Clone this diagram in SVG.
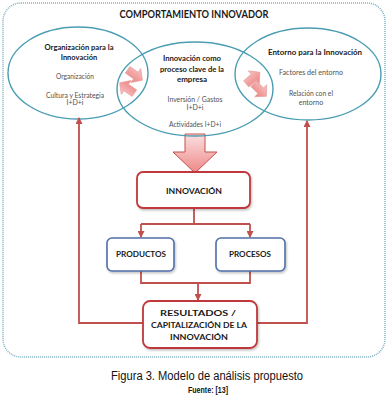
<svg xmlns="http://www.w3.org/2000/svg" width="389" height="400" viewBox="0 0 389 400">
<style>
.ell{fill:none;stroke:#4a9db3;stroke-width:1.4}
.h{font-family:Lato,"Open Sans",sans-serif;font-weight:bold;fill:#1a1a1a;text-anchor:middle}
.b{font-family:Lato,"Open Sans",sans-serif;fill:#505050;text-anchor:middle;font-size:7px}
.rbox{fill:#fff;stroke:#c0393b;stroke-width:1.8}
.bbox{fill:#fff;stroke:#4f6fa8;stroke-width:1.6}
.bt{font-family:Lato,"Open Sans",sans-serif;font-weight:bold;fill:#1a1a1a;text-anchor:middle;font-size:8px}
.ln{fill:none;stroke:#c0504d;stroke-width:1.8}
.pa{fill:url(#pg);stroke:#e39a9a;stroke-width:0.6}
.cap{font-family:"Liberation Sans",sans-serif;fill:#111;text-anchor:middle}
</style>
<defs>
<linearGradient id="pg" x1="0" y1="0" x2="0" y2="1">
<stop offset="0" stop-color="#f8c4c4"/><stop offset="1" stop-color="#ec8282"/>
</linearGradient>
<linearGradient id="bg" x1="0" y1="0" x2="0" y2="1">
<stop offset="0" stop-color="#fbe0e0"/><stop offset="1" stop-color="#ee8888"/>
</linearGradient>
<marker id="ah" markerWidth="7" markerHeight="7" refX="6" refY="3.5" orient="auto" markerUnits="userSpaceOnUse">
<path d="M0,0 L7,3.5 L0,7 Z" fill="#c0504d"/>
</marker>
<filter id="sh" x="-10%" y="-10%" width="130%" height="140%">
<feDropShadow dx="1" dy="1.5" stdDeviation="1" flood-color="#000" flood-opacity="0.25"/>
</filter>
<path id="blk" d="M-9,-4 L1,-4 L1,-8.5 L9,0 L1,8.5 L1,4 L-9,4 Z"/>
</defs>
<rect width="389" height="400" fill="#fff"/>
<rect x="3" y="3" width="382" height="354" rx="18" fill="none" stroke="#7db0c6" stroke-width="1.5" stroke-dasharray="1 1"/>
<text x="194" y="18" class="h" font-size="11" textLength="149" lengthAdjust="spacingAndGlyphs">COMPORTAMIENTO INNOVADOR</text>

<g id="bigarrow">
<path d="M185,134 L205,134 L205,152 L217,152 L195,173 L173,152 L185,152 Z" fill="url(#bg)" stroke="#c0504d" stroke-width="1"/>
</g>

<g id="org">
<ellipse cx="78" cy="73" rx="70" ry="46" class="ell"/>
<text x="79" y="50" class="h" font-size="7.5" textLength="69" lengthAdjust="spacingAndGlyphs">Organización para la</text>
<text x="79" y="60" class="h" font-size="7.5">Innovación</text>
<text x="75" y="79" class="b" textLength="38" lengthAdjust="spacingAndGlyphs">Organización</text>
<text x="75" y="97.5" class="b" textLength="58" lengthAdjust="spacingAndGlyphs">Cultura y Estrategia</text>
<text x="75" y="105" class="b">I+D+i</text>
</g>

<g id="proc">
<ellipse cx="195" cy="89" rx="78" ry="47" class="ell"/>
<text x="192" y="61" class="h" font-size="8" textLength="58" lengthAdjust="spacingAndGlyphs">Innovación como</text>
<text x="192" y="72" class="h" font-size="8" textLength="64" lengthAdjust="spacingAndGlyphs">proceso clave de la</text>
<text x="192" y="82" class="h" font-size="8">empresa</text>
<text x="195" y="102" class="b" textLength="55" lengthAdjust="spacingAndGlyphs">Inversión / Gastos</text>
<text x="195" y="110" class="b">I+D+i</text>
<text x="195" y="127" class="b" textLength="52" lengthAdjust="spacingAndGlyphs">Actividades I+D+i</text>
</g>

<g id="ent">
<ellipse cx="308" cy="74" rx="73" ry="46" class="ell"/>
<text x="315" y="55" class="h" font-size="7.5" textLength="94" lengthAdjust="spacingAndGlyphs">Entorno para la Innovación</text>
<text x="311" y="75" class="b" textLength="64" lengthAdjust="spacingAndGlyphs">Factores  del entorno</text>
<text x="311" y="96" class="b" textLength="44" lengthAdjust="spacingAndGlyphs">Relación con el</text>
<text x="311" y="105" class="b">entorno</text>
</g>

<g id="swaps">
<use href="#blk" class="pa" transform="translate(135,75) rotate(35)"/>
<use href="#blk" class="pa" transform="translate(127,88) rotate(215)"/>
<use href="#blk" class="pa" transform="translate(253,78) rotate(-40)"/>
<use href="#blk" class="pa" transform="translate(260,90) rotate(45)"/>
</g>

<g id="connectors">
<path d="M194,208 L194,224 M141,224 L250,224" class="ln"/>
<path d="M141,224 L141,237" class="ln" marker-end="url(#ah)"/>
<path d="M250,224 L250,237" class="ln" marker-end="url(#ah)"/>
<path d="M141,271 L141,283 L250,283 L250,271" class="ln"/>
<path d="M198,283 L198,300" class="ln" marker-end="url(#ah)"/>
<path d="M143,323 L79,323 L79,118" class="ln" marker-end="url(#ah)"/>
<path d="M257,323 L307,323 L307,121" class="ln" marker-end="url(#ah)"/>
</g>

<g id="innovacion">
<rect x="137" y="172" width="113" height="36" rx="6" class="rbox" filter="url(#sh)"/>
<text x="194" y="194" class="bt" textLength="56" lengthAdjust="spacingAndGlyphs">INNOVACIÓN</text>
</g>
<g id="productos">
<rect x="107" y="238" width="67" height="33" rx="5" class="bbox" filter="url(#sh)"/>
<text x="141" y="257" class="bt" textLength="50" lengthAdjust="spacingAndGlyphs">PRODUCTOS</text>
</g>
<g id="procesos">
<rect x="216" y="238" width="69" height="33" rx="5" class="bbox" filter="url(#sh)"/>
<text x="250" y="257" class="bt" textLength="42" lengthAdjust="spacingAndGlyphs">PROCESOS</text>
</g>
<g id="resultados">
<rect x="143" y="301" width="114" height="47" rx="7" class="rbox" filter="url(#sh)"/>
<text x="198" y="316" class="bt" textLength="76" lengthAdjust="spacingAndGlyphs">RESULTADOS /</text>
<text x="199" y="328" class="bt" textLength="96" lengthAdjust="spacingAndGlyphs">CAPITALIZACIÓN DE LA</text>
<text x="199" y="340" class="bt" textLength="58" lengthAdjust="spacingAndGlyphs">INNOVACIÓN</text>
</g>

<text x="207" y="380" class="cap" font-size="12" textLength="192" lengthAdjust="spacingAndGlyphs">Figura 3. Modelo de análisis propuesto</text>
<text x="208" y="393" class="cap" font-size="9" font-weight="bold" textLength="40" lengthAdjust="spacingAndGlyphs">Fuente: [13]</text>
</svg>
